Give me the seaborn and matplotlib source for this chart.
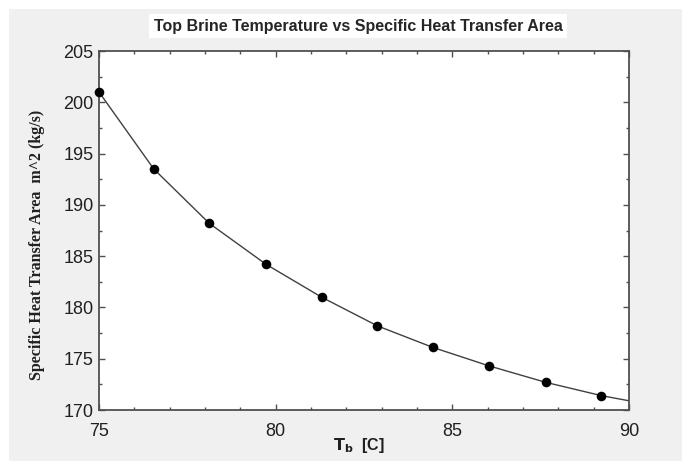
import numpy as np
import pandas as pd
import matplotlib
matplotlib.use("Agg")
import matplotlib.pyplot as plt
from matplotlib.patches import Rectangle
from matplotlib.ticker import MultipleLocator
import seaborn as sns

# points
tb = [75.0, 76.55, 78.12, 79.73, 81.30, 82.88, 84.45, 86.04, 87.64, 89.22]
area = [201.0, 193.5, 188.2, 184.2, 181.0, 178.2, 176.1, 174.3, 172.7, 171.4]
# the fitted curve runs on to the right edge
curve_tb = tb + [90.0]
curve_area = area + [170.9]

df = pd.DataFrame({"tb": tb, "area": area})
curve = pd.DataFrame({"tb": curve_tb, "area": curve_area})

sns.set_style("ticks")
plt.rcParams['font.family'] = ['Liberation Sans', 'DejaVu Sans']

fig = plt.figure(figsize=(6.82, 4.61), dpi=100, facecolor="white")
fig.patches.append(Rectangle((9 / 682, 0), 1, 1 - 9 / 461, transform=fig.transFigure,
                             facecolor="#f0f0f0", edgecolor="none", zorder=-10))
ax = fig.add_axes([99 / 682, 1 - 410 / 461, 530 / 682, 359 / 461])
ax.set_facecolor("white")

sns.lineplot(data=curve, x="tb", y="area", ax=ax, color="#404040", linewidth=1.0)
sns.scatterplot(data=df, x="tb", y="area", ax=ax, color="black", s=48,
                edgecolor="black", linewidth=0, zorder=3, clip_on=False)

ax.set_xlim(75, 90)
ax.set_ylim(170, 205)
ax.xaxis.set_major_locator(MultipleLocator(5))
ax.xaxis.set_minor_locator(MultipleLocator(1))
ax.yaxis.set_major_locator(MultipleLocator(5))
ax.yaxis.set_minor_locator(MultipleLocator(2.5))
ax.tick_params(which="both", direction="in", top=True, right=True, color="#505050")
ax.tick_params(which="major", length=4, width=1, labelsize=13, labelcolor="#202020")
ax.tick_params(axis="x", which="major", pad=9)
ax.tick_params(axis="y", which="major", pad=4)
ax.tick_params(which="minor", length=2.5, width=1)
for s in ax.spines.values():
    s.set_color("#505050")
    s.set_linewidth(1.3)

ax.set_xlabel(r"$\mathbf{T_b}$  [C]", fontsize=11.5, fontweight="bold", color="#202020")
ax.xaxis.set_label_coords(0.49, -0.072)
ax.set_ylabel("Specific Heat Transfer Area  m^2 (kg/s)", fontsize=11.5,
              fontweight="bold", family="Liberation Serif", color="#202020")
ax.yaxis.set_label_coords(-0.102, 0.46)

fig.text(358 / 682, 1 - 26 / 461, "Top Brine Temperature vs Specific Heat Transfer Area",
         ha="center", va="center", fontsize=11.5, fontweight="bold",
         bbox=dict(facecolor="white", edgecolor="none", pad=3))

fig.savefig("out.png", dpi=100, facecolor=fig.get_facecolor())
